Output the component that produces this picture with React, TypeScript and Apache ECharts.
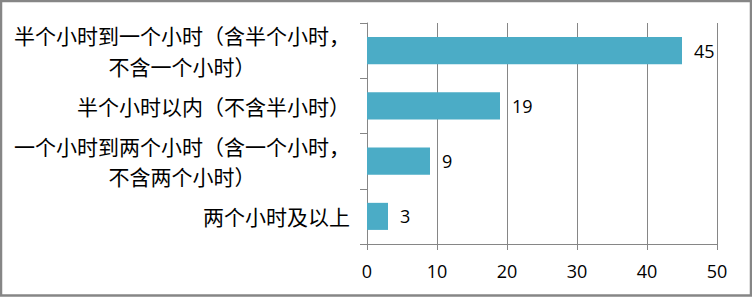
import React, { useEffect, useRef } from "react";
import * as echarts from "echarts";

const categories = [
  "半个小时到一个小时（含半个小时，不含一个小时）",
  "半个小时以内（不含半小时）",
  "一个小时到两个小时（含一个小时，不含两个小时）",
  "两个小时及以上",
];
const values = [45, 19, 9, 3];
const xTicks = { min: 0, max: 50, interval: 10 };

const CJK = '"Noto Sans CJK SC", "Noto Sans", sans-serif';
const NUM = '"Open Sans", "Liberation Sans", sans-serif';
const GRAY = "#868686";
const BAR = "#4BACC6";

export default function App() {
  const ref = useRef<HTMLDivElement>(null);
  useEffect(() => {
    document.body.style.margin = "0";
    const chart = echarts.init(ref.current!, null, { renderer: "svg" });
    const line = { align: "center", fontFamily: CJK, fontSize: 21, lineHeight: 30.5, color: "#000" };
    chart.setOption({
      animation: false,
      backgroundColor: "#fff",
      grid: { left: 367, right: 35, top: 23, bottom: 53, containLabel: false },
      xAxis: {
        type: "value",
        min: xTicks.min,
        max: xTicks.max,
        interval: xTicks.interval,
        axisLine: { show: true, lineStyle: { color: GRAY, width: 1 } },
        axisTick: { show: true, length: 6, lineStyle: { color: GRAY } },
        splitLine: { show: true, lineStyle: { color: GRAY, width: 1 } },
        axisLabel: { color: "#000", fontFamily: NUM, fontSize: 18, margin: 18 },
      },
      yAxis: {
        type: "category",
        inverse: true,
        data: categories,
        axisLine: { show: true, lineStyle: { color: GRAY, width: 1 } },
        axisTick: { show: true, length: 7, lineStyle: { color: GRAY } },
        axisLabel: {
          color: "#000",
          fontFamily: CJK,
          fontSize: 21,
          margin: 17,
          formatter: (v: string) => {
            const i = v.indexOf("，");
            if (i < 0) return v;
            return `{a|${v.slice(0, i + 1)}}\n{b|${v.slice(i + 1)}}`;
          },
          rich: { a: line, b: line },
        },
      },
      series: [
        {
          type: "bar",
          data: values,
          barCategoryGap: "51%",
          itemStyle: { color: BAR },
          label: {
            show: true,
            position: "right",
            distance: 12,
            color: "#000",
            fontFamily: NUM,
            fontSize: 18,
          },
        },
      ],
      graphic: [
        {
          type: "rect",
          silent: true,
          shape: { x: 1, y: 1, width: 750, height: 294.5 },
          style: { fill: "none", stroke: GRAY, lineWidth: 2.5 },
        },
      ],
    });
    return () => chart.dispose();
  }, []);
  return <div ref={ref} style={{ width: 752, height: 297, position: "absolute", left: 0, top: 0 }} />;
}
